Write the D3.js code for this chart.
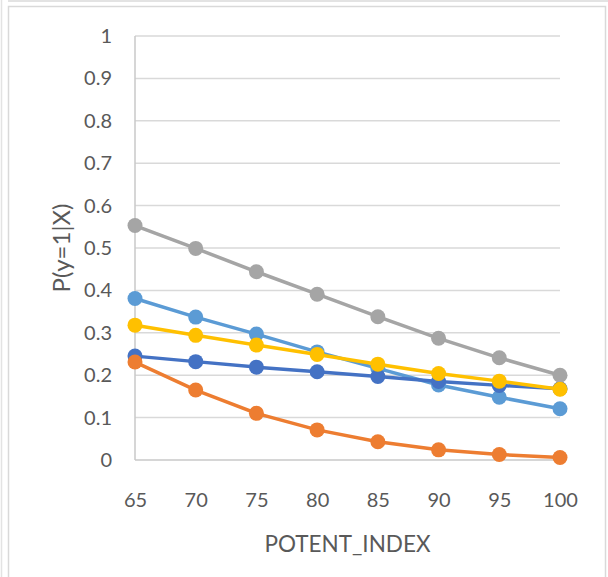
<!DOCTYPE html>
<html>
<head>
<meta charset="utf-8">
<script src="https://cdn.jsdelivr.net/npm/d3@7"></script>
<style>
  html, body { margin: 0; padding: 0; background: #fff; }
  svg { display: block; font-family: Lato, "Open Sans", sans-serif; }
</style>
</head>
<body>
<svg id="chart" width="608" height="577"></svg>
<script>
// Predicted probability by POTENT_INDEX, one line per model
const xValues = [65, 70, 75, 80, 85, 90, 95, 100];
const yTicks = [0, 0.1, 0.2, 0.3, 0.4, 0.5, 0.6, 0.7, 0.8, 0.9, 1];

const seriesLightBlue = [0.381, 0.337, 0.297, 0.255, 0.216, 0.177, 0.148, 0.121];
const seriesBlue      = [0.245, 0.232, 0.219, 0.208, 0.197, 0.185, 0.176, 0.168];
const seriesOrange    = [0.231, 0.165, 0.110, 0.071, 0.043, 0.024, 0.013, 0.006];
const seriesGray      = [0.553, 0.499, 0.444, 0.391, 0.338, 0.287, 0.241, 0.200];
const seriesYellow    = [0.318, 0.294, 0.271, 0.249, 0.226, 0.204, 0.186, 0.167];

const series = [
  { values: seriesLightBlue, color: "#5B9BD5" },
  { values: seriesBlue,      color: "#4472C4" },
  { values: seriesOrange,    color: "#ED7D31" },
  { values: seriesGray,      color: "#A5A5A5" },
  { values: seriesYellow,    color: "#FFC000" }
];

const svg = d3.select("#chart");

// outer frame
svg.append("line").attr("x1", 1.5).attr("x2", 1.5).attr("y1", 0).attr("y2", 577)
  .attr("stroke", "#e3e3e3").attr("stroke-width", 1.5);
svg.append("line").attr("x1", 8).attr("x2", 608).attr("y1", 1).attr("y2", 1)
  .attr("stroke", "#e3e3e3").attr("stroke-width", 2);
svg.append("rect").attr("x", 8.5).attr("y", 6.5).attr("width", 597).attr("height", 600)
  .attr("fill", "none").attr("stroke", "#d9d9d9").attr("stroke-width", 1.5);

const x = d3.scaleLinear().domain([65, 100]).range([135, 560]);
const y = d3.scaleLinear().domain([0, 1]).range([460, 36]);

// horizontal gridlines
svg.append("g").selectAll("line").data(yTicks.filter(d => d > 0)).join("line")
  .attr("x1", x(65)).attr("x2", x(100))
  .attr("y1", d => y(d)).attr("y2", d => y(d))
  .attr("stroke", "#d9d9d9").attr("stroke-width", 1.5);

// axis lines
svg.append("line").attr("x1", x(65)).attr("x2", x(100)).attr("y1", y(0)).attr("y2", y(0))
  .attr("stroke", "#c8c8c8").attr("stroke-width", 1.5);
svg.append("line").attr("x1", x(65)).attr("x2", x(65)).attr("y1", y(0)).attr("y2", y(1))
  .attr("stroke", "#c8c8c8").attr("stroke-width", 1.5);

// y tick labels
const yAxis = d3.axisLeft(y).tickValues(yTicks).tickSize(0).tickPadding(23)
  .tickFormat(d => d3.format("~g")(d));
const gy = svg.append("g").attr("transform", `translate(${x(65)},0)`).call(yAxis);
gy.select(".domain").remove();
gy.selectAll("text").attr("fill", "#595959").attr("font-size", 20)
  .attr("font-family", "Lato, sans-serif");

// x tick labels
const xAxis = d3.axisBottom(x).tickValues(xValues).tickSize(0).tickPadding(33)
  .tickFormat(d3.format("d"));
const gx = svg.append("g").attr("transform", `translate(0,${y(0)})`).call(xAxis);
gx.select(".domain").remove();
gx.selectAll("text").attr("fill", "#595959").attr("font-size", 20)
  .attr("font-family", "Lato, sans-serif");

// axis titles
svg.append("text").attr("x", (x(65) + x(100)) / 2).attr("y", 552)
  .attr("text-anchor", "middle").attr("fill", "#595959").attr("font-size", 22.5)
  .text("POTENT_INDEX");
svg.append("text")
  .attr("transform", `translate(70,${(y(0) + y(1)) / 2}) rotate(-90)`)
  .attr("text-anchor", "middle").attr("fill", "#595959").attr("font-size", 24)
  .text("P(y=1|X)");

// lines and markers
const line = d3.line().x((d, i) => x(xValues[i])).y(d => y(d));
series.forEach(s => {
  const g = svg.append("g");
  g.append("path").datum(s.values).attr("d", line)
    .attr("fill", "none").attr("stroke", s.color).attr("stroke-width", 3.5)
    .attr("stroke-linejoin", "round");
  g.selectAll("circle").data(s.values).join("circle")
    .attr("cx", (d, i) => x(xValues[i])).attr("cy", d => y(d))
    .attr("r", 7.5).attr("fill", s.color);
});
</script>
</body>
</html>
